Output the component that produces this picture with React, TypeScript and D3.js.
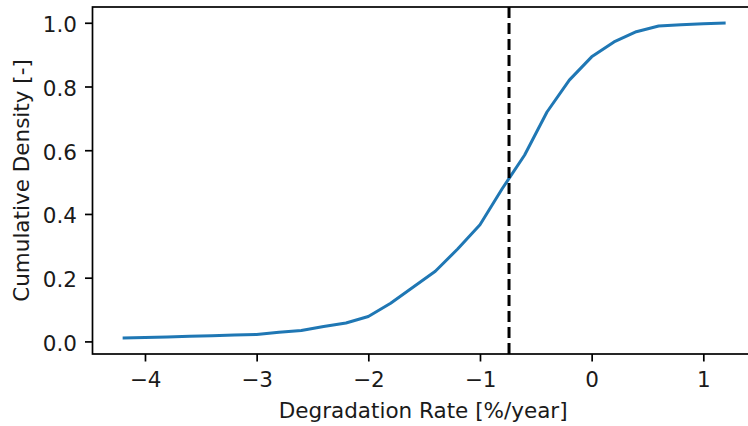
import React, { useEffect } from 'react';
import * as d3 from 'd3';

// degradation rate [%/year] and cumulative density
const rates = [-4.2, -4.0, -3.8, -3.6, -3.4, -3.2, -3.0, -2.8, -2.6, -2.4, -2.2, -2.0, -1.8, -1.6,
  -1.4, -1.2, -1.0, -0.8, -0.6, -0.4, -0.2, 0.0, 0.2, 0.4, 0.6, 0.8, 1.0, 1.2];
const density = [0.011, 0.012, 0.014, 0.016, 0.018, 0.02, 0.022, 0.029, 0.034, 0.047, 0.058, 0.078, 0.12, 0.17,
  0.22, 0.29, 0.366, 0.48, 0.585, 0.72, 0.82, 0.893, 0.94, 0.972, 0.99, 0.994, 0.997, 0.999];
const median = -0.74;
const xTicks = [-4, -3, -2, -1, 0, 1];
const yTicks = [0, 0.2, 0.4, 0.6, 0.8, 1.0];

const W = 748, H = 426;
const FONT = '"DejaVu Sans", sans-serif';
const FS = 21.5;

const Chart = () => {
  const svgId = 'cdf-chart';

  const render = () => {
    const left = 92.5, right = 755.8, top = 7, bottom = 354;
    const x = d3.scaleLinear().domain([-4.47, 1.47]).range([left, right]);
    const y = d3.scaleLinear().domain([-0.0395, 1.0495]).range([bottom, top]);

    const svg = d3.select('#' + svgId);

    // curve
    const line = d3.line<number>().x((d, i) => x(rates[i])).y(d => y(d));
    svg.append('path')
      .datum(density)
      .attr('fill', 'none')
      .attr('stroke', '#1f77b4')
      .attr('stroke-width', 3)
      .attr('stroke-linejoin', 'round')
      .attr('d', line);

    // median marker
    svg.append('line')
      .attr('x1', x(median)).attr('x2', x(median))
      .attr('y1', top).attr('y2', bottom)
      .attr('stroke', '#000')
      .attr('stroke-width', 3)
      .attr('stroke-dasharray', '11,5');

    // axes
    const xAxis = svg.append('g')
      .attr('transform', `translate(0,${bottom})`)
      .call(d3.axisBottom(x).tickValues(xTicks).tickFormat(d3.format('d')).tickSize(7.5).tickPadding(10.2).tickSizeOuter(0));
    const yAxis = svg.append('g')
      .attr('transform', `translate(${left},0)`)
      .call(d3.axisLeft(y).tickValues(yTicks).tickFormat(d3.format('.1f')).tickSize(7.5).tickPadding(8).tickSizeOuter(0));

    [xAxis, yAxis].forEach(g => {
      g.select('.domain').remove();
      g.selectAll('line').attr('stroke', '#000').attr('stroke-width', 1.7);
      g.selectAll('text').attr('font-family', FONT).attr('font-size', FS).attr('fill', '#1a1a1a');
    });
    yAxis.selectAll('text').attr('dy', '0.42em');

    // spines (right one falls outside the crop)
    svg.append('rect')
      .attr('x', left).attr('y', top)
      .attr('width', right - left).attr('height', bottom - top)
      .attr('fill', 'none')
      .attr('stroke', '#000')
      .attr('stroke-width', 1.7);

    svg.append('text')
      .attr('x', (left + right) / 2 - 1).attr('y', 418)
      .attr('text-anchor', 'middle')
      .attr('font-family', FONT).attr('font-size', FS).attr('fill', '#1a1a1a')
      .text('Degradation Rate [%/year]');

    svg.append('text')
      .attr('transform', `translate(29,${(top + bottom) / 2}) rotate(-90)`)
      .attr('text-anchor', 'middle')
      .attr('font-family', FONT).attr('font-size', FS).attr('fill', '#1a1a1a')
      .text('Cumulative Density [-]');
  };

  useEffect(() => {
    render();
    return () => { d3.selectAll('#' + svgId + ' > *').remove(); };
  }, []);

  return (
    <svg id={svgId} width={W} height={H}
      style={{ position: 'absolute', left: 0, top: 0, background: '#fff' }} />
  );
};

export default function App() {
  return <Chart />;
}
